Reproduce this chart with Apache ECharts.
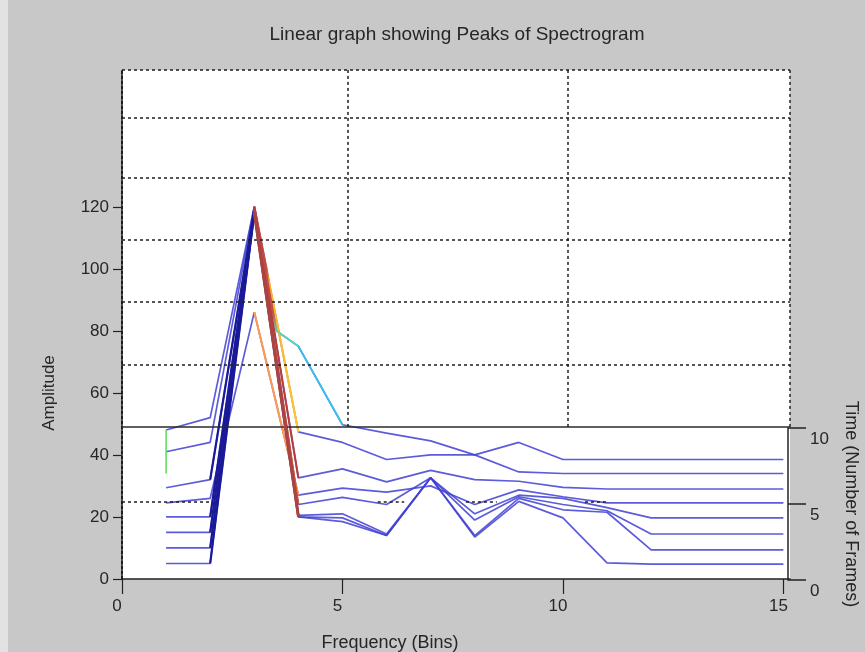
<!DOCTYPE html>
<html><head><meta charset="utf-8">
<script src="https://cdn.jsdelivr.net/npm/echarts@6/dist/echarts.min.js"></script>
<style>html,body{margin:0;padding:0;background:#c8c8c8}#c{width:865px;height:652px}</style>
</head><body><div id="c"></div>
<script>
// ---- data (apparent amplitude of each frame trace) ----
const bins  = [1,2,3,4,5,6,7,8,9,10,11,12,13,14,15];
const frameH = [5,5,118,20,18.5,14,32.6,13.5,25,19.7,5.2,4.8,4.8,4.8,4.8];
const frameG = [10,10,118,20,19.7,14,32.6,14,26,22.3,21.5,9.4,9.4,9.4,9.4];
const frameF = [15,15,119,20.5,21,14.5,32.6,19,26.5,24,22,14.5,14.5,14.5,14.5];
const frameE = [20,20,119,24,26.3,24,32.6,21,27,26,23,19.7,19.7,19.7,19.7];
const frameD = [24.5,26,86,27,29.3,28,30,24,28.7,26.5,24.5,24.5,24.5,24.5,24.5];
const frameC = [29.4,32,119,32.6,35.5,31.3,35,32,31.5,29.5,29,29,29,29,29];
const frameB = [48,52,120,47.4,44,38.5,40,40,44,38.5,38.5,38.5,38.5,38.5,38.5];
const binsA  = [1,2,3,3.5,4,5,6,7,8,9,10,11,12,13,14,15];
const frameA = [41,44,120,80,75,49.7,47,44.5,40,34.5,34,34,34,34,34,34];
const edgeAtBin1 = [48, 34];

// axes / grid references
const freqTicks = [0, 5, 10, 15];
const ampTicks = [0, 20, 40, 60, 80, 100, 120];
const frameTicks = [0, 5, 10];
const backGridLevels = [148.7, 129.4, 109.4, 89.4, 69.0];
const backGridBins = [5.12, 10.11];
const wallBase = 49;
const plotTop = 164;
const plotRight = 15.15;
const floorLevel = 24.8;
const floorSpans = [[0, 2.05], [5.8, 6.4], [7.8, 8.5], [10.5, 11.0]];

// ---- chart ----
const FONT = 'Liberation Sans, Arial, sans-serif';
const TXT = '#262626';
const BLUE = '#4040d4';
const pts = (xs, ys) => xs.map((x, i) => [x, ys[i]]);
const seg = (xs, ys, a, b) => xs.slice(a, b + 1).map((x, k) => [x, ys[a + k]]);

const dotted = {color: '#1e1e1e', width: 1.5, type: [3, 3]};
const mk = [];
backGridLevels.forEach(v => mk.push([{coord: [0, v], lineStyle: dotted}, {coord: [plotRight, v]}]));
mk.push([{coord: [0, plotTop], lineStyle: dotted}, {coord: [plotRight, plotTop]}]);
backGridBins.forEach(b => mk.push([{coord: [b, wallBase], lineStyle: dotted}, {coord: [b, plotTop]}]));
mk.push([{coord: [plotRight, wallBase], lineStyle: dotted}, {coord: [plotRight, plotTop]}]);
floorSpans.forEach(s => mk.push([{coord: [s[0], floorLevel], lineStyle: dotted}, {coord: [s[1], floorLevel]}]));
mk.push([{coord: [0, wallBase], lineStyle: {color: '#2a2a2a', width: 1.5, type: 'solid'}}, {coord: [plotRight, wallBase]}]);

const series = [];
series.push({type: 'line', xAxisIndex: 0, yAxisIndex: 0, data: [], silent: true,
  markLine: {symbol: ['none', 'none'], silent: true, label: {show: false}, animation: false, data: mk}});

const frames = [
  {xs: bins, ys: frameH}, {xs: bins, ys: frameG}, {xs: bins, ys: frameF}, {xs: bins, ys: frameE},
  {xs: bins, ys: frameD}, {xs: bins, ys: frameC}, {xs: bins, ys: frameB}, {xs: binsA, ys: frameA}
];
frames.forEach((f, i) => series.push({
  type: 'line', name: 'Frame ' + (i + 1), data: pts(f.xs, f.ys), symbol: 'none',
  lineStyle: {color: BLUE, width: 1.7, opacity: 0.85}, z: 3
}));

function over(data, color, width, z) {
  series.push({type: 'line', data, symbol: 'none', lineStyle: {color, width}, z: z || 4});
}
// dark rising sides
[frameH, frameG, frameF, frameE, frameC].forEach(f => over(seg(bins, f, 1, 2), '#1a1a98', 2.2));
// coloured falling sides
over(seg(bins, frameD, 2, 3), '#ff9a4e', 2);
over(seg(bins, frameB, 2, 3), {type: 'linear', x: 0, y: 0, x2: 0, y2: 1, colorStops: [
  {offset: 0, color: '#b84040'}, {offset: 0.28, color: '#c85038'}, {offset: 0.34, color: '#ffb028'}, {offset: 1, color: '#ffc830'}]}, 2.2);
over(seg(bins, frameE, 2, 3), '#d0542a', 2);
over(seg(bins, frameC, 2, 3), '#b83c3c', 2);
[frameH, frameG, frameF].forEach(f => over(seg(bins, f, 2, 3), '#a84444', 2.6, 5));
over(seg(binsA, frameA, 2, 3), {type: 'linear', x: 0, y: 0, x2: 0, y2: 1, colorStops: [
  {offset: 0, color: '#b84040'}, {offset: 0.85, color: '#c85040'}, {offset: 1, color: '#60e0a0'}]}, 2);
over(seg(binsA, frameA, 3, 4), '#50e0b8', 1.6);
over(seg(binsA, frameA, 4, 5), '#30c8f0', 1.6);
over([[bins[0], edgeAtBin1[0]], [bins[0], edgeAtBin1[1]]], '#60e060', 1.6);

const option = {
  animation: false,
  backgroundColor: '#c8c8c8',
  textStyle: {fontFamily: FONT},
  title: {text: 'Linear graph showing Peaks of Spectrogram', left: 452, top: 20, textAlign: 'center',
    textStyle: {fontFamily: FONT, fontSize: 19, fontWeight: 'normal', color: TXT}},
  graphic: [{type: 'rect', left: 0, top: 0, shape: {width: 8, height: 652}, style: {fill: '#e2e2e2'}, silent: true}],
  grid: [
    {left: 122, top: 70, width: 668, height: 509, show: true, backgroundColor: '#ffffff', borderWidth: 0, outerBoundsMode: 'none', containLabel: false},
    {left: 122, top: 207, width: 668, height: 372, show: false, outerBoundsMode: 'none', containLabel: false},
    {left: 122, top: 428, width: 666, height: 152, show: false, outerBoundsMode: 'none', containLabel: false}
  ],
  xAxis: [
    {type: 'value', gridIndex: 0, min: 0, max: plotRight, interval: 5,
      axisLine: {onZero: false, lineStyle: {color: '#222', width: 1.5}},
      axisTick: {length: 15, lineStyle: {color: '#222', width: 1.2}},
      axisLabel: {showMaxLabel: false, margin: 19, fontSize: 17, color: TXT, fontFamily: FONT, padding: [0, 10, 0, 0],
        formatter: v => freqTicks.includes(v) ? String(v) : ''},
      splitLine: {show: false},
      name: 'Frequency (Bins)', nameLocation: 'middle', nameGap: 55,
      nameTextStyle: {fontSize: 18, color: TXT, fontFamily: FONT, padding: [0, 132, 0, 0]}},
    {type: 'value', gridIndex: 1, min: 0, max: 1, show: false},
    {type: 'value', gridIndex: 2, min: 0, max: 1, show: false}
  ],
  yAxis: [
    {type: 'value', gridIndex: 0, min: 0, max: plotTop,
      axisLine: {show: true, onZero: false, lineStyle: {color: '#1e1e1e', width: 2, type: [3, 2]}},
      axisTick: {show: false}, axisLabel: {show: false}, splitLine: {show: false}},
    {type: 'value', gridIndex: 1, min: 0, max: 120, interval: 20,
      axisLine: {show: false, onZero: false},
      axisTick: {show: true, length: 9, lineStyle: {color: '#222', width: 1.2}},
      axisLabel: {margin: 13, fontSize: 17, color: TXT, fontFamily: FONT,
        formatter: v => ampTicks.includes(v) ? String(v) : ''},
      splitLine: {show: false},
      name: 'Amplitude', nameLocation: 'middle', nameGap: 64, nameRotate: 90,
      nameTextStyle: {fontSize: 17, color: TXT, fontFamily: FONT}},
    {type: 'value', gridIndex: 2, position: 'right', min: 0, max: 10, interval: 5,
      axisLine: {show: true, onZero: false, lineStyle: {color: '#222', width: 1.5}},
      axisTick: {show: true, length: 18, lineStyle: {color: '#222', width: 1.5}},
      axisLabel: {margin: 22, fontSize: 17, color: TXT, fontFamily: FONT, verticalAlign: 'top', padding: [3, 0, 0, 0],
        formatter: v => frameTicks.includes(v) ? String(v) : ''},
      splitLine: {show: false},
      name: 'Time (Number of Frames)', nameLocation: 'middle', nameGap: 54, nameRotate: -90,
      nameTextStyle: {fontSize: 18, color: TXT, fontFamily: FONT}}
  ],
  series
};
echarts.init(document.getElementById('c'), null, {renderer: 'canvas'}).setOption(option);
</script></body></html>
